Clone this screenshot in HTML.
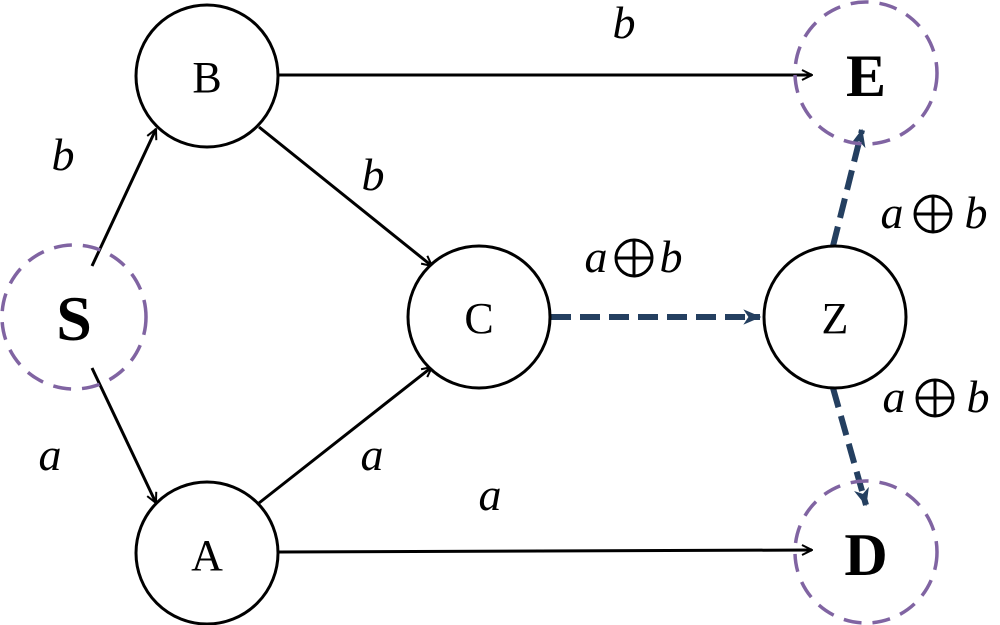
<!DOCTYPE html>
<html><head><meta charset="utf-8"><style>html,body{margin:0;padding:0;background:#fff}svg{display:block}</style></head>
<body>
<svg width="1000" height="625" viewBox="0 0 1000 625" xmlns="http://www.w3.org/2000/svg">
<defs>
<marker id="ah" viewBox="0 0 12 12" refX="11" refY="6" markerWidth="12" markerHeight="12" markerUnits="userSpaceOnUse" orient="auto"><path d="M1,1 L11,6 L1,11" fill="none" stroke="#000" stroke-width="2"/></marker>
<marker id="ahb" viewBox="0 0 14 14" refX="13" refY="7" markerWidth="18" markerHeight="18" markerUnits="userSpaceOnUse" orient="auto"><path d="M0,1 L14,7 L0,13 L4,7 Z" fill="#243f60"/></marker>
<g id="op"><circle cx="0" cy="0" r="18" fill="none" stroke="#000" stroke-width="3"/><line x1="-18" y1="0" x2="18" y2="0" stroke="#000" stroke-width="3"/><line x1="0" y1="-18" x2="0" y2="18" stroke="#000" stroke-width="3"/></g>
</defs>
<g stroke="#000" stroke-width="3" fill="none">
<line x1="92" y1="266" x2="156" y2="129" marker-end="url(#ah)"/>
<line x1="92" y1="368" x2="156" y2="503" marker-end="url(#ah)"/>
<line x1="279" y1="75" x2="812" y2="75" marker-end="url(#ah)"/>
<line x1="259" y1="127" x2="432" y2="266" marker-end="url(#ah)"/>
<line x1="259" y1="503" x2="432" y2="367" marker-end="url(#ah)"/>
<line x1="279" y1="552" x2="812" y2="550" marker-end="url(#ah)"/>
</g>
<g stroke="#243f60" stroke-width="6" fill="none" stroke-dasharray="20,9">
<line x1="551" y1="317" x2="760" y2="317" marker-end="url(#ahb)"/>
<line x1="833" y1="246" x2="862" y2="130" marker-end="url(#ahb)"/>
<line x1="833" y1="388" x2="866" y2="505" marker-end="url(#ahb)"/>
</g>
<g stroke="#000" stroke-width="3" fill="#fff">
<circle cx="207" cy="76" r="71"/>
<circle cx="207" cy="553" r="71"/>
<circle cx="479" cy="317" r="71"/>
<circle cx="835" cy="317" r="71"/>
</g>
<g stroke="#8064a2" stroke-width="3.5" fill="none" stroke-dasharray="18,11">
<circle cx="74" cy="317" r="72"/>
<circle cx="866" cy="73" r="71"/>
<circle cx="866" cy="552" r="71"/>
</g>
<g font-family="'Liberation Serif', serif" font-size="44" text-anchor="middle" fill="#000">
<text x="207" y="92">B</text>
<text x="207" y="570">A</text>
<text x="479" y="333">C</text>
<text x="835" y="333">Z</text>
<text x="74" y="340" font-size="64" font-weight="bold">S</text>
<text x="866" y="96" font-size="60" font-weight="bold">E</text>
<text x="866" y="575" font-size="60" font-weight="bold">D</text>
</g>
<g font-family="'Liberation Serif', serif" font-size="46" font-style="italic" text-anchor="middle" fill="#000">
<text x="63" y="170">b</text>
<text x="373" y="190">b</text>
<text x="624" y="38">b</text>
<text x="50" y="470">a</text>
<text x="372" y="470">a</text>
<text x="490" y="510">a</text>
<text x="596" y="272">a</text><text x="671" y="272">b</text>
<text x="892" y="228">a</text><text x="976" y="228">b</text>
<text x="894" y="412">a</text><text x="978" y="412">b</text>
</g>
<use href="#op" x="634" y="258"/>
<use href="#op" x="933" y="214"/>
<use href="#op" x="935" y="398"/>
</svg>
</body></html>
